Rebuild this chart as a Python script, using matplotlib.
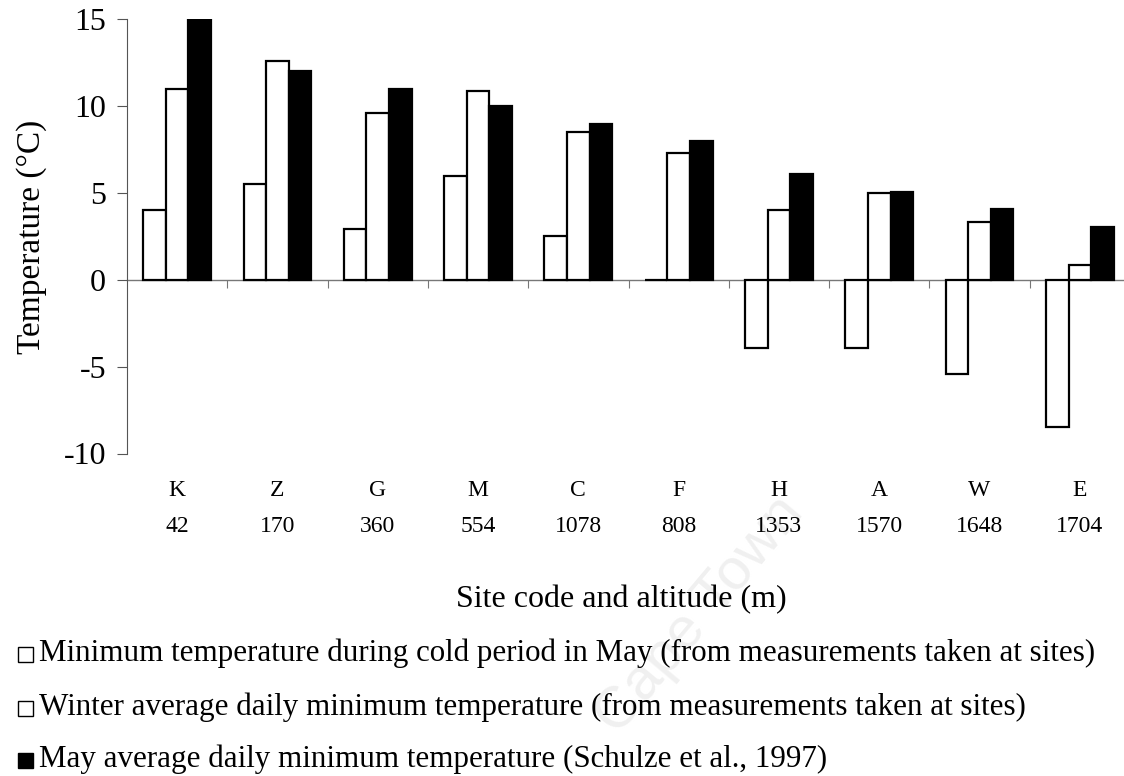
import matplotlib
matplotlib.use("Agg")
import matplotlib.pyplot as plt
from matplotlib.patches import Rectangle
import numpy as np

sites = ["K", "Z", "G", "M", "C", "F", "H", "A", "W", "E"]
altitudes = ["42", "170", "360", "554", "1078", "808", "1353", "1570", "1648", "1704"]
cold_period_min = [4.0, 5.5, 2.9, 6.0, 2.5, 0.0, -3.9, -3.9, -5.4, -8.45]
winter_avg_min = [11.0, 12.6, 9.6, 10.9, 8.5, 7.3, 4.0, 5.0, 3.35, 0.85]
may_avg_min = [15.0, 12.0, 11.0, 10.0, 9.0, 8.0, 6.1, 5.05, 4.05, 3.05]
yticks = [-10, -5, 0, 5, 10, 15]
legend_labels = [
    "Minimum temperature during cold period in May (from measurements taken at sites)",
    "Winter average daily minimum temperature (from measurements taken at sites)",
    "May average daily minimum temperature (Schulze et al., 1997)",
]

W, H = 1124, 776
fig = plt.figure(figsize=(W / 100, H / 100), dpi=100)
serif = ["Liberation Serif", "DejaVu Serif"]

left_px, right_px = 127, 1130
top_px, bot_px = 19.3, 453.5
ax = fig.add_axes([left_px / W, 1 - bot_px / H, (right_px - left_px) / W, (bot_px - top_px) / H])

x = np.arange(len(sites))
bw = 0.225
ax.bar(x - bw, cold_period_min, bw, facecolor="white", edgecolor="black", linewidth=1.6)
ax.bar(x, winter_avg_min, bw, facecolor="white", edgecolor="black", linewidth=1.6)
ax.bar(x + bw, may_avg_min, bw, facecolor="black", edgecolor="black", linewidth=1.6)

ax.set_xlim(-0.5, len(sites) - 0.5)
ax.set_ylim(-10, 15)
for s in ["top", "right"]:
    ax.spines[s].set_visible(False)
ax.spines["left"].set_color("#555555")
ax.spines["left"].set_linewidth(0.8)
ax.spines["bottom"].set_position(("data", 0))
ax.spines["bottom"].set_color("#777777")
ax.spines["bottom"].set_linewidth(1.0)
ax.spines["bottom"].set_zorder(0)

ax.set_yticks(yticks)
ax.set_yticklabels([str(v) for v in yticks], fontfamily=serif, fontsize=23)
ax.tick_params(axis="y", direction="out", length=7, width=0.8, color="#555555", pad=8)
ax.set_xticks(np.arange(len(sites) - 1) + 0.5)
ax.set_xticklabels([])
ax.tick_params(axis="x", direction="out", length=6, width=0.8, color="#777777")

ax.set_ylabel("Temperature (°C)", fontfamily=serif, fontsize=24, labelpad=12)

def ypix(py):
    return (H - py) / H

for i, (s, a) in enumerate(zip(sites, altitudes)):
    xc = ax.transData.transform((i, 0))[0] / W
    fig.text(xc, ypix(491), s, ha="center", va="center", fontfamily=serif, fontsize=17)
    fig.text(xc, ypix(527), a, ha="center", va="center", fontfamily=serif, fontsize=17)

fig.text(621 / W, ypix(600), "Site code and altitude (m)", ha="center", va="center",
         fontfamily=serif, fontsize=23)

ys = [653, 707, 759]
fills = ["white", "white", "black"]
for yy, lab, fc in zip(ys, legend_labels, fills):
    sq = 15
    fig.patches.append(Rectangle((18 / W, (H - yy - sq / 2 - 1) / H), sq / W, sq / H,
                                 transform=fig.transFigure, facecolor=fc, edgecolor="black",
                                 linewidth=1.0, figure=fig))
    fig.text(39 / W, ypix(yy), lab, ha="left", va="center", fontfamily=serif, fontsize=22.3)

fig.text(700 / W, ypix(615), "Cape Town", ha="center", va="center",
         rotation=50, fontfamily=["Liberation Sans", "DejaVu Sans"], fontsize=42,
         color="#f0f0f0", zorder=-1)

fig.savefig("out.png", dpi=100)
